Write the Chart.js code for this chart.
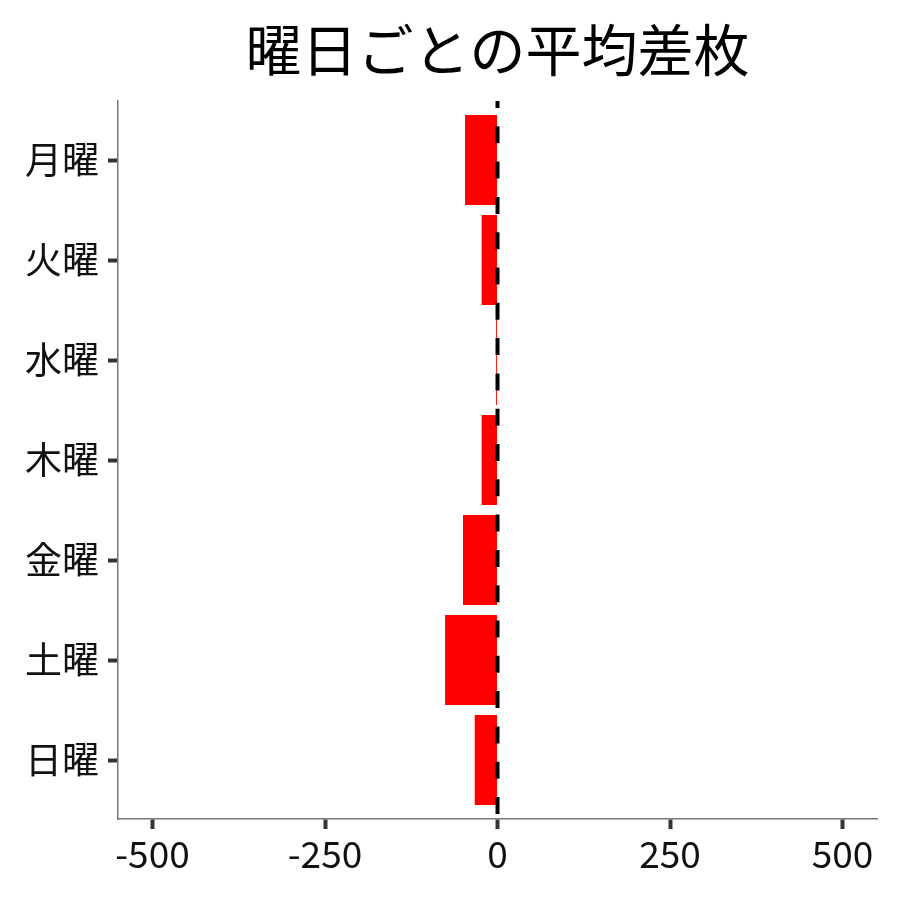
<html>
<head>
<meta charset="utf-8">
<title>曜日ごとの平均差枚</title>
<style>
  body { margin: 0; background: #fff; }
  #wrap { width: 900px; height: 900px; }
</style>
</head>
<body>
<div id="wrap"><canvas id="weekday-chart"></canvas></div>
<script src="https://cdn.jsdelivr.net/npm/chart.js@4/dist/chart.umd.min.js"></script>
<script>
  // data
  var days = ["月曜", "火曜", "水曜", "木曜", "金曜", "土曜", "日曜"];
  var avgDiff = [-47, -23, -2, -23, -50, -76, -33];
  var xTicks = [-500, -250, 0, 250, 500];
  var chartTitle = "曜日ごとの平均差枚";

  var fontName = '"Noto Sans CJK JP", "Noto Sans", sans-serif';

  var points = [];
  for (var i = 0; i < days.length; i++) {
    points.push({ x: avgDiff[i], y: i });
  }

  // dashed reference line at zero, drawn over the bars
  var zeroLine = {
    id: 'zeroLine',
    afterDatasetsDraw: function (chart) {
      var ctx = chart.ctx;
      var area = chart.chartArea;
      var x = chart.scales.x.getPixelForValue(0);
      ctx.save();
      ctx.strokeStyle = '#000';
      ctx.lineWidth = 4;
      ctx.setLineDash([17, 18.3]);
      ctx.lineDashOffset = 10;
      ctx.beginPath();
      ctx.moveTo(x, area.top);
      ctx.lineTo(x, area.bottom);
      ctx.stroke();
      ctx.restore();
    }
  };

  // title centred over the plot panel, not the whole canvas
  var panelTitle = {
    id: 'panelTitle',
    afterDraw: function (chart) {
      var ctx = chart.ctx;
      var area = chart.chartArea;
      ctx.save();
      ctx.fillStyle = '#000';
      ctx.font = '56px ' + fontName;
      ctx.textAlign = 'center';
      ctx.textBaseline = 'middle';
      ctx.fillText(chartTitle, (area.left + area.right) / 2, 50);
      ctx.restore();
    }
  };

  var ctx = document.getElementById('weekday-chart').getContext('2d');
  new Chart(ctx, {
    type: 'bar',
    data: {
      datasets: [{
        data: points,
        backgroundColor: '#ff0000',
        borderWidth: 0,
        barPercentage: 0.9,
        categoryPercentage: 1.0
      }]
    },
    options: {
      indexAxis: 'y',
      responsive: true,
      maintainAspectRatio: false,
      animation: false,
      layout: { padding: { top: 101, right: 23, bottom: 0, left: 0 } },
      plugins: {
        legend: { display: false },
        title: { display: false },
        tooltip: { enabled: false }
      },
      scales: {
        x: {
          type: 'linear',
          min: -550,
          max: 550,
          afterBuildTicks: function (scale) {
            scale.ticks = xTicks.map(function (v) { return { value: v }; });
          },
          afterFit: function (scale) { scale.height = 81; },
          grid: {
            drawOnChartArea: false,
            tickLength: 10,
            tickWidth: 4,
            tickColor: '#333'
          },
          border: { display: true, color: '#777', width: 1.5 },
          ticks: {
            padding: 3,
            color: '#111',
            font: { family: fontName, size: 37 }
          }
        },
        y: {
          type: 'linear',
          reverse: true,
          offset: false,
          min: -0.59,
          max: 6.59,
          afterBuildTicks: function (scale) {
            scale.ticks = days.map(function (d, i) { return { value: i }; });
          },
          afterFit: function (scale) { scale.width = 118; },
          grid: {
            offset: false,
            drawOnChartArea: false,
            tickLength: 10,
            tickWidth: 4,
            tickColor: '#333'
          },
          border: { display: true, color: '#777', width: 1.5 },
          ticks: {
            padding: 9,
            color: '#111',
            font: { family: fontName, size: 37 },
            callback: function (value) { return days[value]; }
          }
        }
      }
    },
    plugins: [zeroLine, panelTitle]
  });
</script>
</body>
</html>
